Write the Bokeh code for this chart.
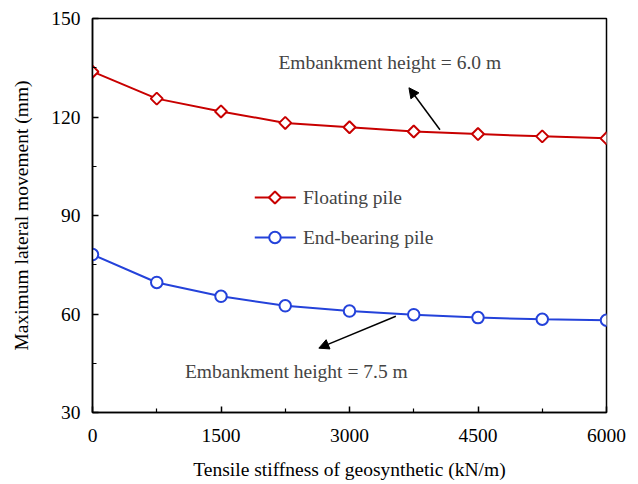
import math
from bokeh.plotting import figure
from bokeh.models import Range1d, FixedTicker, Arrow, NormalHead, Label
from bokeh.embed import file_html
from bokeh.resources import INLINE

# Tensile stiffness of the geosynthetic layer (kN/m)
stiffness = [0, 750, 1500, 2250, 3000, 3750, 4500, 5250, 6000]
# Maximum lateral movement (mm)
floating_pile = [133.8, 125.6, 121.7, 118.2, 116.9, 115.6, 114.8, 114.1, 113.5]
end_bearing_pile = [78.1, 69.6, 65.4, 62.5, 60.9, 59.8, 58.9, 58.4, 58.1]

x_major = [0, 1500, 3000, 4500, 6000]
x_minor = [750, 2250, 3750, 5250]
y_major = [30, 60, 90, 120, 150]
y_minor = [45, 75, 105, 135]

FONT = "Liberation Serif"
FS = "19.5px"
RED = "#C80000"
BLUE = "#2442DA"

p = figure(width=638, height=484, output_backend="svg", toolbar_location=None,
           x_range=Range1d(0, 6000), y_range=Range1d(30, 150),
           min_border_left=92, min_border_right=32, min_border_top=18,
           min_border_bottom=72)
p.xgrid.visible = False
p.ygrid.visible = False
p.outline_line_color = "black"
p.outline_line_width = 1.5
p.background_fill_color = "white"
p.border_fill_color = "white"

p.xaxis.ticker = FixedTicker(ticks=x_major, minor_ticks=x_minor)
p.yaxis.ticker = FixedTicker(ticks=y_major, minor_ticks=y_minor)
for ax in (p.xaxis, p.yaxis):
    ax.axis_line_width = 1.5
    ax.axis_line_color = "black"
    ax.major_tick_in = 6
    ax.major_tick_out = 0
    ax.minor_tick_in = 4
    ax.minor_tick_out = 0
    ax.major_tick_line_width = 1.5
    ax.minor_tick_line_width = 1.2
    ax.major_label_text_font = FONT
    ax.major_label_text_font_size = FS
    ax.major_label_text_color = "black"
    ax.axis_label_text_font = FONT
    ax.axis_label_text_font_size = FS
    ax.axis_label_text_font_style = "normal"
    ax.axis_label_text_color = "black"

p.xaxis.axis_label = "Tensile stiffness of geosynthetic (kN/m)"
p.yaxis.axis_label = "Maximum lateral movement (mm)"
p.xaxis.major_label_standoff = 16
p.xaxis.axis_label_standoff = 14
p.yaxis.major_label_standoff = 12
p.yaxis.axis_label_standoff = 16

DIAMOND = dict(marker="square", angle=math.pi / 4, size=8.5,
               fill_color="white", line_color=RED, line_width=2)
CIRCLE = dict(marker="circle", size=11.5,
              fill_color="white", line_color=BLUE, line_width=2)

# Series
p.line(stiffness, floating_pile, line_color=RED, line_width=2)
p.scatter(stiffness, floating_pile, **DIAMOND)
p.line(stiffness, end_bearing_pile, line_color=BLUE, line_width=2)
p.scatter(stiffness, end_bearing_pile, **CIRCLE)

# Legend, drawn in place
p.line([1894, 2373], [95.5, 95.5], line_color=RED, line_width=2)
p.scatter([2130], [95.5], **DIAMOND)
p.line([1894, 2373], [83.3, 83.3], line_color=BLUE, line_width=2)
p.scatter([2130], [83.3], **CIRCLE)
p.add_layout(Label(x=2456, y=95.5, text="Floating pile", text_font=FONT,
                   text_font_size=FS, text_baseline="middle", text_align="left"))
p.add_layout(Label(x=2456, y=83.3, text="End-bearing pile", text_font=FONT,
                   text_font_size=FS, text_baseline="middle", text_align="left"))

# Annotations
p.add_layout(Label(x=3470, y=136.5, text="Embankment height = 6.0 m",
                   text_font=FONT, text_font_size=FS, text_baseline="middle",
                   text_align="center"))
p.add_layout(Arrow(x_start=4056, y_start=116.1, x_end=3694, y_end=128.9,
                   line_width=1.5, line_color="black",
                   end=NormalHead(size=10, fill_color="black", line_color="black")))
p.add_layout(Label(x=2379, y=42.6, text="Embankment height = 7.5 m",
                   text_font=FONT, text_font_size=FS, text_baseline="middle",
                   text_align="center"))
p.add_layout(Arrow(x_start=3541, y_start=59.3, x_end=2642, y_end=49.6,
                   line_width=1.5, line_color="black",
                   end=NormalHead(size=10, fill_color="black", line_color="black")))

open("out.html", "w").write(file_html(p, INLINE))
